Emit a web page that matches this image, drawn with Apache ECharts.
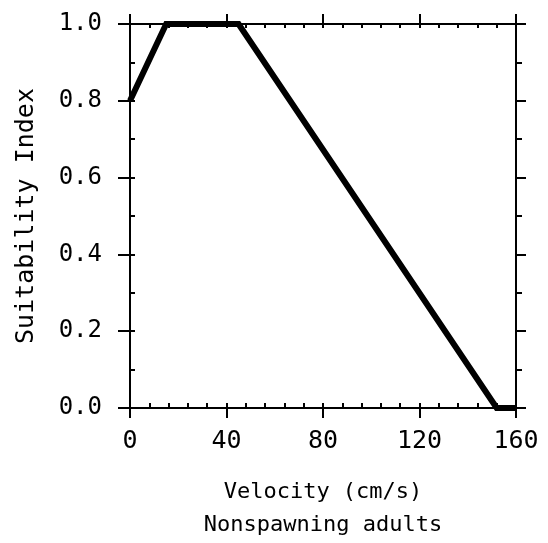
<!DOCTYPE html>
<html>
<head>
<meta charset="utf-8">
<script src="https://cdn.jsdelivr.net/npm/echarts@6/dist/echarts.min.js"></script>
<style>
  html, body { margin: 0; padding: 0; background: #fff; }
  #chart { width: 548px; height: 543px; }
</style>
</head>
<body>
<div id="chart"></div>
<script>
// curve breakpoints
var velocity = [0, 15, 45, 152, 160]
var suitability = [0.8, 1.0, 1.0, 0.0, 0.0]

var xTitle = 'Velocity (cm/s)'
var xSubtitle = 'Nonspawning adults'
var yTitle = 'Suitability Index'

var FONT = 'DejaVu Sans Mono'
var INK = '#000'
var BOX = { left: 130, right: 32, top: 24, bottom: 135, outerBoundsMode: 'none', containLabel: false }

var points = velocity.map(function(v, i) {
  return [v, suitability[i]]
})

// one axis; major ticks go out, the "minor" copies sit in a second grid with ticks in
function axis(dim, pos, grid, step, inside, len, line) {
  var a = {
    type: 'value', gridIndex: grid, position: pos,
    min: 0, max: dim === 'x' ? 160 : 1, interval: step,
    axisLine: { show: line, onZero: false, lineStyle: { color: INK, width: 2 } },
    axisTick: { show: true, inside: inside, length: len, lineStyle: { color: INK, width: 2 } },
    axisLabel: { show: false },
    splitLine: { show: false }
  }
  return a
}

var xMain = axis('x', 'bottom', 0, 40, false, 10, true)
xMain.axisLabel = { show: true, color: INK, fontFamily: FONT, fontSize: 25, margin: 21 }
xMain.name = xTitle + '\n' + xSubtitle
xMain.nameLocation = 'middle'
xMain.nameGap = 68
xMain.nameTextStyle = { color: INK, fontFamily: FONT, fontSize: 22, lineHeight: 33, verticalAlign: 'top' }

var yMain = axis('y', 'left', 0, 0.2, false, 12, true)
yMain.axisLabel = {
  show: true, color: INK, fontFamily: FONT, fontSize: 24, margin: 28,
  formatter: function(v) { return v.toFixed(1) }
}
yMain.name = yTitle
yMain.nameLocation = 'middle'
yMain.nameGap = 91
yMain.nameTextStyle = { color: INK, fontFamily: FONT, fontSize: 25 }

var yRight = axis('y', 'right', 1, 0.2, false, 10, true)
yRight.minorTick = { show: true, splitNumber: 2, length: 6, lineStyle: { color: INK, width: 2 } }

var xAxes = [
  xMain,
  axis('x', 'top', 1, 40, false, 10, true),
  axis('x', 'bottom', 2, 8, true, 5, false),
  axis('x', 'top', 3, 8, true, 4, false)
]
var yAxes = [
  yMain,
  yRight,
  axis('y', 'left', 2, 0.1, true, 5, false),
  axis('y', 'right', 3, 0.2, false, 0, false)
]

var chart = echarts.init(document.getElementById('chart'), null, { renderer: 'canvas' })
chart.setOption({
  animation: false,
  backgroundColor: '#fff',
  grid: [BOX, BOX, BOX, BOX],
  xAxis: xAxes,
  yAxis: yAxes,
  series: [
    {
      type: 'line',
      xAxisIndex: 0,
      yAxisIndex: 0,
      data: points,
      symbol: 'none',
      lineStyle: { color: INK, width: 6, join: 'miter' },
      z: 5
    }
  ]
})
</script>
</body>
</html>
